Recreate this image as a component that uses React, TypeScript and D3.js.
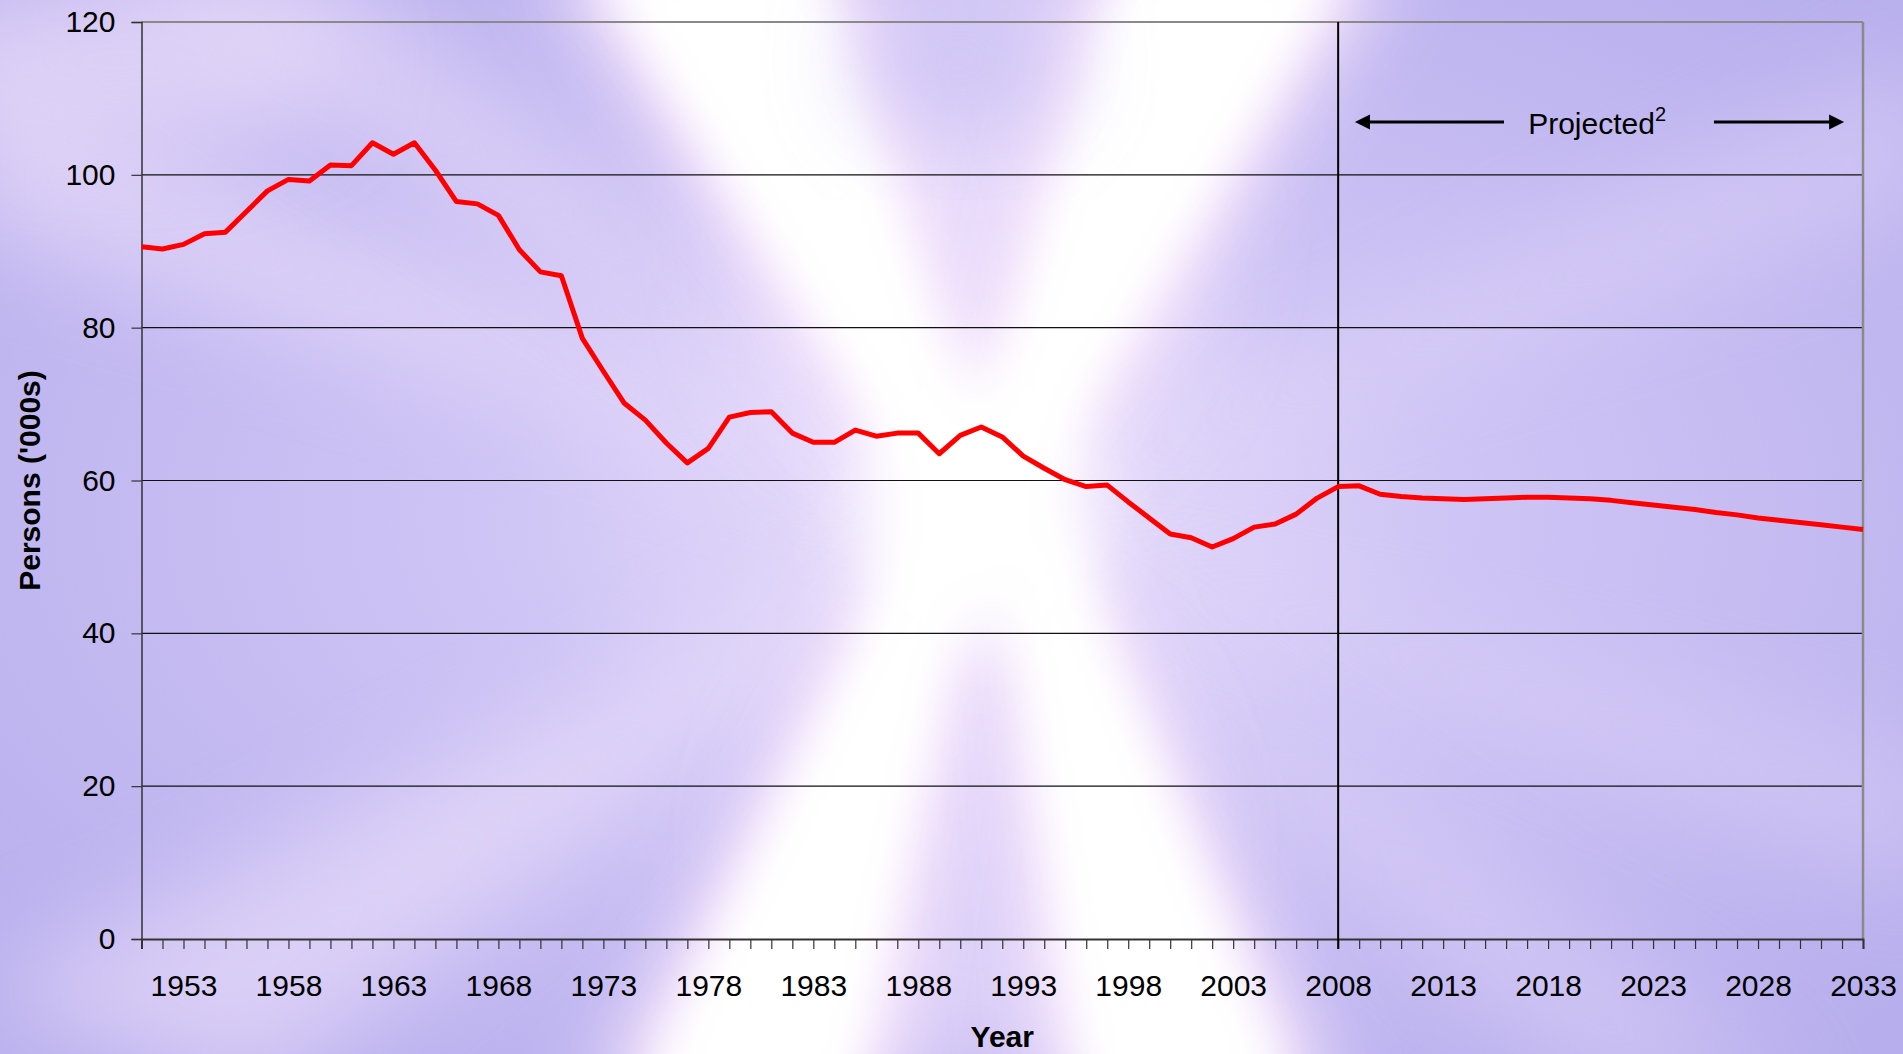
import React, { useEffect, useRef } from "react";
import * as d3 from "d3";

// categories: one point per year
const years = [
  1951, 1952, 1953, 1954, 1955, 1956, 1957, 1958, 1959, 1960,
  1961, 1962, 1963, 1964, 1965, 1966, 1967, 1968, 1969, 1970,
  1971, 1972, 1973, 1974, 1975, 1976, 1977, 1978, 1979, 1980,
  1981, 1982, 1983, 1984, 1985, 1986, 1987, 1988, 1989, 1990,
  1991, 1992, 1993, 1994, 1995, 1996, 1997, 1998, 1999, 2000,
  2001, 2002, 2003, 2004, 2005, 2006, 2007, 2008, 2009, 2010,
  2011, 2012, 2013, 2014, 2015, 2016, 2017, 2018, 2019, 2020,
  2021, 2022, 2023, 2024, 2025, 2026, 2027, 2028, 2029, 2030,
  2031, 2032, 2033,
];

// persons ('000s)
const persons = [
  90.6, 90.3, 90.9, 92.3, 92.5, 95.2, 97.9, 99.4, 99.2, 101.3,
  101.2, 104.2, 102.7, 104.2, 100.6, 96.5, 96.2, 94.7, 90.2, 87.3,
  86.8, 78.6, 74.3, 70.1, 67.9, 64.9, 62.3, 64.2, 68.3, 68.9,
  69.0, 66.2, 65.0, 65.0, 66.6, 65.8, 66.2, 66.2, 63.5, 65.9,
  67.0, 65.7, 63.2, 61.6, 60.1, 59.2, 59.4, 57.2, 55.1, 53.0,
  52.5, 51.3, 52.4, 53.9, 54.3, 55.6, 57.7, 59.2, 59.3, 58.2,
  57.9, 57.7, 57.6, 57.5, 57.6, 57.7, 57.8, 57.8, 57.7, 57.6,
  57.4, 57.1, 56.8, 56.5, 56.2, 55.8, 55.5, 55.1, 54.8, 54.5,
  54.2, 53.9, 53.6,
];

const yTicks = [0, 20, 40, 60, 80, 100, 120];
const xLabelYears = [1953, 1958, 1963, 1968, 1973, 1978, 1983, 1988, 1993, 1998, 2003, 2008, 2013, 2018, 2023, 2028, 2033];
const projectionStart = 2008;

const FONT = "'Liberation Sans', Arial, Helvetica, sans-serif";

export default function App() {
  const svgRef = useRef<SVGSVGElement>(null);

  useEffect(() => {
    const width = 1903;
    const height = 1054;
    const margin = { top: 22, right: 40, bottom: 115, left: 141.5 };

    const svg = d3.select(svgRef.current);
    svg.selectAll("*").remove();
    svg.attr("width", width).attr("height", height);

    const x = d3.scaleLinear()
      .domain([years[0], years[years.length - 1]])
      .range([margin.left, width - margin.right]);

    const y = d3.scaleLinear()
      .domain([0, 120])
      .range([height - margin.bottom, margin.top]);

    // ---- background (lavender with white light rays) ----
    const defs = svg.append("defs");
    const bg = defs.append("radialGradient")
      .attr("id", "bgGrad")
      .attr("cx", "51%").attr("cy", "49%").attr("r", "68%");
    bg.append("stop").attr("offset", "0%").attr("stop-color", "#e8defb");
    bg.append("stop").attr("offset", "38%").attr("stop-color", "#cec4f5");
    bg.append("stop").attr("offset", "100%").attr("stop-color", "#b7aeed");

    const blur = (id: string, s: number) =>
      defs.append("filter").attr("id", id)
        .attr("x", "-50%").attr("y", "-50%").attr("width", "200%").attr("height", "200%")
        .append("feGaussianBlur").attr("stdDeviation", s);
    blur("blurBig", 50);
    blur("blurMid", 36);
    blur("blurSmall", 20);

    svg.append("rect")
      .attr("width", width).attr("height", height)
      .attr("fill", "url(#bgGrad)");

    const rayG = svg.append("g");

    // soft light patches between the rays
    rayG.append("ellipse")
      .attr("cx", 975).attr("cy", 230).attr("rx", 230).attr("ry", 260)
      .attr("fill", "#ece0fc").attr("opacity", 0.75)
      .attr("filter", "url(#blurBig)");
    rayG.append("ellipse")
      .attr("cx", 975).attr("cy", 850).attr("rx", 200).attr("ry", 230)
      .attr("fill", "#e6dafb").attr("opacity", 0.6)
      .attr("filter", "url(#blurBig)");

    // main rays of the X: [near-centre edge pair, far edge pair]
    const mainRays = [
      [[920, 520], [1015, 520], [870, -40], [540, -40]],
      [[940, 520], [1035, 520], [1400, -40], [1070, -40]],
      [[900, 520], [995, 520], [900, 1100], [590, 1100]],
      [[980, 520], [1075, 520], [1340, 1100], [1040, 1100]],
    ];
    const faintRays = [
      { pts: [[975, 520], [-40, 60], [-40, 230]], op: 0.5 },
      { pts: [[975, 520], [80, -40], [330, -40]], op: 0.45 },
      { pts: [[975, 520], [1943, 40], [1943, 200]], op: 0.3 },
      { pts: [[975, 520], [-40, 1000], [260, 1100]], op: 0.5 },
      { pts: [[975, 520], [1943, 760], [1943, 900]], op: 0.25 },
      { pts: [[975, 520], [1600, 1100], [1820, 1100]], op: 0.3 },
    ];

    rayG.selectAll(".faint")
      .data(faintRays)
      .enter()
      .append("polygon")
      .attr("points", d => d.pts.map(p => p.join(",")).join(" "))
      .attr("fill", "#f8eafd")
      .attr("opacity", d => d.op)
      .attr("filter", "url(#blurBig)");

    rayG.selectAll(".outer")
      .data(mainRays)
      .enter()
      .append("polygon")
      .attr("points", d => d.map(p => p.join(",")).join(" "))
      .attr("fill", "#f8e6fc")
      .attr("opacity", 0.95)
      .attr("filter", "url(#blurMid)");

    const shrink = (d: number[][]) => {
      // narrower core of a ray
      const [a, b, cc, dd] = d;
      const k = 0.15;
      return [
        [a[0] + (b[0] - a[0]) * k, a[1]],
        [b[0] - (b[0] - a[0]) * k, b[1]],
        [cc[0] - (cc[0] - dd[0]) * k, cc[1]],
        [dd[0] + (cc[0] - dd[0]) * k, dd[1]],
      ];
    };
    rayG.selectAll(".core")
      .data(mainRays.map(shrink))
      .enter()
      .append("polygon")
      .attr("points", d => d.map(p => p.join(",")).join(" "))
      .attr("fill", "#ffffff")
      .attr("opacity", 1)
      .attr("filter", "url(#blurSmall)");

    rayG.append("ellipse")
      .attr("cx", 975).attr("cy", 505).attr("rx", 115).attr("ry", 140)
      .attr("fill", "#ffffff").attr("opacity", 1)
      .attr("filter", "url(#blurMid)");
    rayG.append("ellipse")
      .attr("cx", 960).attr("cy", 60).attr("rx", 100).attr("ry", 70)
      .attr("fill", "#c9c0f4").attr("opacity", 0.8)
      .attr("filter", "url(#blurBig)");
    rayG.append("ellipse")
      .attr("cx", 120).attr("cy", 60).attr("rx", 220).attr("ry", 90)
      .attr("fill", "#f3e4fc").attr("opacity", 0.6)
      .attr("filter", "url(#blurBig)");

    // ---- plot frame and gridlines ----
    const plot = svg.append("g");

    plot.selectAll(".grid")
      .data(yTicks.filter(t => t > 0 && t < 120))
      .enter()
      .append("line")
      .attr("x1", x.range()[0]).attr("x2", x.range()[1])
      .attr("y1", d => y(d)).attr("y2", d => y(d))
      .attr("stroke", "#111").attr("stroke-width", 1.2);

    plot.append("line")
      .attr("x1", x.range()[0]).attr("x2", x.range()[1])
      .attr("y1", y(120)).attr("y2", y(120))
      .attr("stroke", "#8a8a8a").attr("stroke-width", 2);
    plot.append("line")
      .attr("x1", x.range()[1]).attr("x2", x.range()[1])
      .attr("y1", y(120)).attr("y2", y(0))
      .attr("stroke", "#8a8a8a").attr("stroke-width", 2.5);

    // y axis
    const yAxis = d3.axisLeft(y).tickValues(yTicks).tickSize(10).tickPadding(16);
    const yG = plot.append("g")
      .attr("transform", `translate(${x.range()[0]},0)`)
      .call(yAxis);
    yG.select(".domain").attr("stroke", "#333").attr("stroke-width", 1.5);
    yG.selectAll(".tick line").attr("stroke", "#333").attr("stroke-width", 1.2);
    yG.selectAll("text")
      .attr("fill", "#000")
      .style("font-family", FONT)
      .style("font-size", "30px");

    // x axis
    const xAxis = d3.axisBottom(x)
      .tickValues(years)
      .tickSize(10)
      .tickPadding(26)
      .tickFormat(d => (xLabelYears.includes(+d) ? String(d) : ""));
    const xG = plot.append("g")
      .attr("transform", `translate(0,${y(0)})`)
      .call(xAxis);
    xG.select(".domain").attr("stroke", "#333").attr("stroke-width", 2);
    xG.selectAll(".tick line").attr("stroke", "#333").attr("stroke-width", 1.2);
    xG.selectAll("text")
      .attr("fill", "#000")
      .style("font-family", FONT)
      .style("font-size", "30px");

    // projection divider
    plot.append("line")
      .attr("x1", x(projectionStart)).attr("x2", x(projectionStart))
      .attr("y1", y(120)).attr("y2", y(0) + 10)
      .attr("stroke", "#000").attr("stroke-width", 2);

    // ---- data line ----
    const line = d3.line<number>()
      .x((d, i) => x(years[i]))
      .y(d => y(d));

    plot.append("path")
      .datum(persons)
      .attr("d", line)
      .attr("fill", "none")
      .attr("stroke", "#ff0000")
      .attr("stroke-width", 5)
      .attr("stroke-linejoin", "round");

    // ---- annotation ----
    const ay = y(106.9);
    const arrow = (from: number, to: number) => {
      const x0 = x(from);
      const x1 = x(to);
      const dir = Math.sign(x1 - x0);
      plot.append("line")
        .attr("x1", x0).attr("x2", x1 - dir * 12)
        .attr("y1", ay).attr("y2", ay)
        .attr("stroke", "#000").attr("stroke-width", 3);
      plot.append("polygon")
        .attr("points", `${x1},${ay} ${x1 - dir * 15},${ay - 7.5} ${x1 - dir * 15},${ay + 7.5}`)
        .attr("fill", "#000");
    };
    arrow(2015.9, 2008.8);
    arrow(2025.9, 2032.1);

    const label = plot.append("text")
      .attr("x", x(2017.05))
      .attr("y", y(105.4))
      .attr("fill", "#000")
      .style("font-family", FONT)
      .style("font-size", "30px");
    label.append("tspan").text("Projected");
    label.append("tspan")
      .attr("dy", -13)
      .style("font-size", "20px")
      .text("2");

    // ---- axis titles ----
    svg.append("text")
      .attr("x", (x.range()[0] + x.range()[1]) / 2)
      .attr("y", 1047)
      .attr("text-anchor", "middle")
      .style("font-family", FONT)
      .style("font-size", "30px")
      .style("font-weight", "bold")
      .text("Year");

    svg.append("text")
      .attr("transform", `translate(40,${(y(0) + y(120)) / 2}) rotate(-90)`)
      .attr("text-anchor", "middle")
      .style("font-family", FONT)
      .style("font-size", "30px")
      .style("font-weight", "bold")
      .text("Persons ('000s)");
  }, []);

  return (
    <div style={{ position: "absolute", left: 0, top: 0 }}>
      <svg ref={svgRef} style={{ display: "block" }}></svg>
    </div>
  );
}
